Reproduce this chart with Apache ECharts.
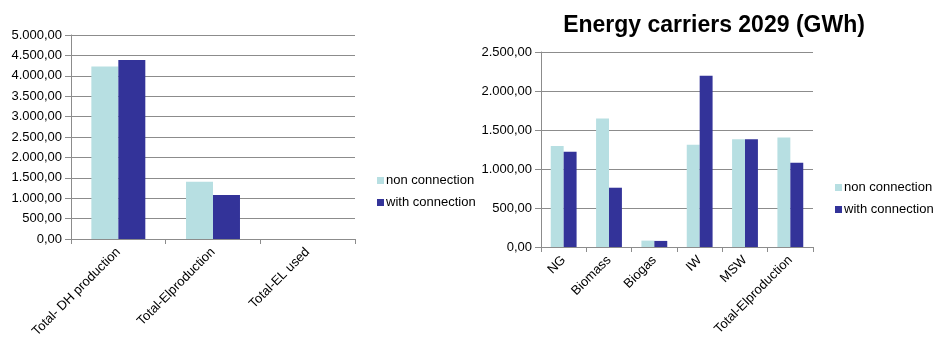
<!DOCTYPE html>
<html>
<head>
<meta charset="utf-8">
<script src="https://cdn.jsdelivr.net/npm/echarts@6/dist/echarts.min.js"></script>
<style>
  html, body { margin: 0; padding: 0; background: #fff; }
  #chart { width: 937px; height: 344px; }
</style>
</head>
<body>
<div id="chart"></div>
<script>
// Totals chart (left)
const totalCategories = ['Total- DH production', 'Total-Elproduction', 'Total-EL used'];
const totalNonConnection = [4225, 1405, 0];
const totalWithConnection = [4390, 1080, 0];

// Energy carriers 2029 chart (right)
const carrierCategories = ['NG', 'Biomass', 'Biogas', 'IW', 'MSW', 'Total-Elproduction'];
const carrierNonConnection = [1295, 1648, 82, 1310, 1383, 1405];
const carrierWithConnection = [1220, 760, 78, 2195, 1383, 1080];

const seriesNames = ['non connection', 'with connection'];
const chartTitle = 'Energy carriers 2029 (GWh)';

const LIGHT = '#B7DFE2';
const DARK = '#333399';
const GRID_GRAY = '#8C8C8C';
const FONT = 'Liberation Sans, Arial, sans-serif';

// 5000 -> "5.000,00"
function fmt(v) {
  const parts = Number(v).toFixed(2).split('.');
  const intPart = parts[0].replace(/\B(?=(\d{3})+(?!\d))/g, '.');
  return intPart + ',' + parts[1];
}

function yAxis(gridIndex, max, interval) {
  return {
    gridIndex, type: 'value', min: 0, max, interval,
    axisLine: { show: true, lineStyle: { color: GRID_GRAY } },
    axisTick: { show: true, length: 6, lineStyle: { color: GRID_GRAY } },
    splitLine: { show: true, lineStyle: { color: GRID_GRAY, width: 1 } },
    axisLabel: { formatter: fmt, color: '#000', fontFamily: FONT, fontSize: 13, margin: 9 }
  };
}

function xAxis(gridIndex, data) {
  return {
    gridIndex, type: 'category', data,
    axisLine: { show: true, lineStyle: { color: GRID_GRAY } },
    axisTick: { show: true, length: 5, lineStyle: { color: GRID_GRAY } },
    axisLabel: {
      rotate: 45, color: '#000', fontFamily: FONT,
      fontSize: 13, margin: 11, interval: 0
    }
  };
}

function bars(name, data, color, axisIndex) {
  return {
    name, type: 'bar', data,
    xAxisIndex: axisIndex, yAxisIndex: axisIndex,
    itemStyle: { color },
    barGap: '0%', barCategoryGap: '43%',
    animation: false
  };
}

function legend(left, top) {
  return {
    left, top, orient: 'vertical',
    data: seriesNames,
    icon: 'rect', itemWidth: 7, itemHeight: 7, itemGap: 9,
    textStyle: { color: '#000', fontFamily: FONT, fontSize: 13, padding: [0, 0, 0, -3] },
    selectedMode: false
  };
}

const chart = echarts.init(document.getElementById('chart'), null, { renderer: 'canvas' });
chart.setOption({
  backgroundColor: '#fff',
  animation: false,
  title: {
    text: chartTitle,
    left: 709, top: 9, textAlign: 'center',
    textStyle: { fontFamily: FONT, fontWeight: 'bold', fontSize: 23, color: '#000' }
  },
  legend: [legend(372, 169), legend(830, 176)],
  grid: [
    { left: 71, top: 35, width: 284, height: 204 },
    { left: 541, top: 52, width: 272, height: 195 }
  ],
  xAxis: [xAxis(0, totalCategories), xAxis(1, carrierCategories)],
  yAxis: [yAxis(0, 5000, 500), yAxis(1, 2500, 500)],
  series: [
    bars(seriesNames[0], totalNonConnection, LIGHT, 0),
    bars(seriesNames[1], totalWithConnection, DARK, 0),
    bars(seriesNames[0], carrierNonConnection, LIGHT, 1),
    bars(seriesNames[1], carrierWithConnection, DARK, 1)
  ]
});
</script>
</body>
</html>
